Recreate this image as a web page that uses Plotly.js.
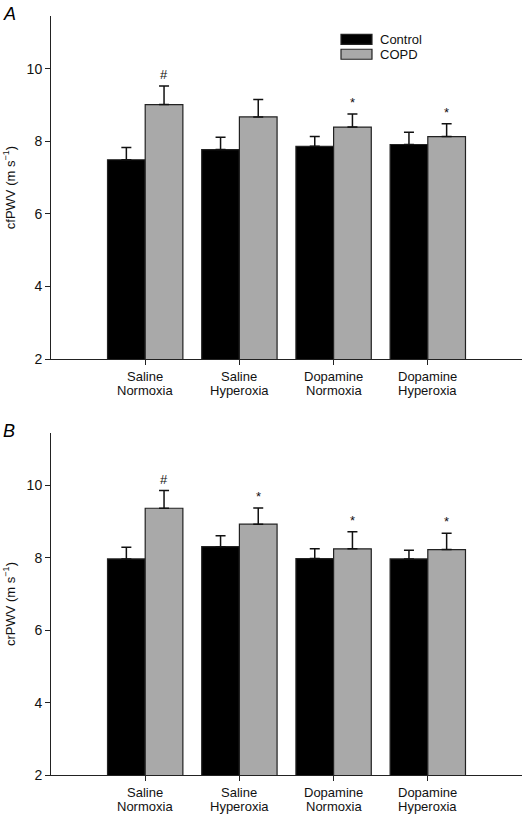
<!DOCTYPE html>
<html>
<head>
<meta charset="utf-8">
<script src="https://cdn.plot.ly/plotly-3.0.1.min.js"></script>
<style>html,body{margin:0;padding:0;background:#fff;}#chart{width:528px;height:814px;}</style>
</head>
<body>
<div id="chart"></div>
<script>
// ---- data ----
var categories = ["Saline<br>Normoxia", "Saline<br>Hyperoxia", "Dopamine<br>Normoxia", "Dopamine<br>Hyperoxia"];
var seriesNames = ["Control", "COPD"];

var cfControl = [7.49, 7.77, 7.86, 7.91];
var cfControlErr = [0.34, 0.34, 0.27, 0.34];
var cfCOPD = [9.01, 8.67, 8.39, 8.13];
var cfCOPDErr = [0.51, 0.48, 0.36, 0.35];
var cfSig = ["#", "", "*", "*"];

var crControl = [7.97, 8.31, 7.98, 7.97];
var crControlErr = [0.32, 0.30, 0.27, 0.24];
var crCOPD = [9.37, 8.93, 8.25, 8.23];
var crCOPDErr = [0.49, 0.45, 0.47, 0.45];
var crSig = ["#", "*", "*", "*"];

var yTicks = [2, 4, 6, 8, 10];
var panelLabels = ["A", "B"];
var yTitles = ["cfPWV (m s<sup>−1</sup>)", "crPWV (m s<sup>−1</sup>)"];

// ---- build ----
var idx = categories.map(function(_, i){ return i; });
var colors = ["#000000", "#a9a9a9"];
var font = "Liberation Sans, Arial, sans-serif";

function barTrace(vals, errs, s, xa, ya) {
  return {
    type: "bar", x: idx, y: vals, name: seriesNames[s], showlegend: false,
    xaxis: xa, yaxis: ya, base: 0,
    marker: {color: colors[s], line: {color: "#222", width: 1.2}},
    error_y: {type: "data", array: errs, arrayminus: errs.map(function(){return 0;}), symmetric: false,
              color: "#111", thickness: 1.5, width: 5}
  };
}

var data = [
  barTrace(cfControl, cfControlErr, 0, "x", "y"),
  barTrace(cfCOPD, cfCOPDErr, 1, "x", "y"),
  barTrace(crControl, crControlErr, 0, "x2", "y2"),
  barTrace(crCOPD, crCOPDErr, 1, "x2", "y2")
];

var annotations = [];
function addSig(sig, vals, errs, xr, yr) {
  sig.forEach(function(t, i){
    if (!t) return;
    annotations.push({xref: xr, yref: yr, x: i + 0.2, y: vals[i] + errs[i], text: t,
      showarrow: false, yanchor: "bottom", yshift: 2, font: {family: font, size: 13, color: "#111"}});
  });
}
addSig(cfSig, cfCOPD, cfCOPDErr, "x", "y");
addSig(crSig, crCOPD, crCOPDErr, "x2", "y2");

// category labels (two tight lines under each axis)
var domainsBottom = [0.548, 0];
["x", "x2"].forEach(function(xr, p){
  categories.forEach(function(c, i){
    c.split("<br>").forEach(function(line, k){
      annotations.push({xref: xr, yref: "paper", x: i, y: domainsBottom[p], yanchor: "middle",
        yshift: -(17.0 + 14.6 * k), text: line, showarrow: false, borderpad: 0,
        font: {family: font, size: 13, color: "#111"}});
    });
  });
});

// panel labels
annotations.push({xref: "paper", yref: "paper", x: -0.106, y: 1.019, xanchor: "left", yanchor: "top",
  text: "<i>" + panelLabels[0] + "</i>", showarrow: false, font: {family: font, size: 18, color: "#000"}});
annotations.push({xref: "paper", yref: "paper", x: -0.106, y: 0.469, xanchor: "left", yanchor: "top",
  text: "<i>" + panelLabels[1] + "</i>", showarrow: false, font: {family: font, size: 18, color: "#000"}});

// legend (manual)
var shapes = [];
var legY = [[0.9627, 0.9759], [0.9430, 0.9562]];
seriesNames.forEach(function(n, s){
  shapes.push({type: "rect", xref: "paper", yref: "paper", x0: 0.6157, x1: 0.6815,
    y0: legY[s][0], y1: legY[s][1], fillcolor: colors[s], line: {color: "#222", width: 1.2}});
  annotations.push({xref: "paper", yref: "paper", x: 0.694, y: (legY[s][0] + legY[s][1]) / 2,
    xanchor: "left", yanchor: "middle", text: n, showarrow: false,
    font: {family: font, size: 13, color: "#111"}});
});

function xAxis(anchor) {
  return {anchor: anchor, range: [-1, 4], tickmode: "array", tickvals: idx, ticktext: categories,
    showticklabels: false,
    ticks: "outside", ticklen: 5, tickwidth: 1, tickcolor: "#222", showline: true, linecolor: "#222", linewidth: 1,
    showgrid: false, zeroline: false, tickfont: {family: font, size: 13, color: "#111"}, fixedrange: true};
}
function yAxis(anchor, dom, t) {
  return {anchor: anchor, domain: dom, range: [2, 11.45], tickmode: "array", tickvals: yTicks,
    ticks: "outside", ticklen: 5, tickwidth: 1, tickcolor: "#222", showline: true, linecolor: "#222", linewidth: 1,
    showgrid: false, zeroline: false, tickfont: {family: font, size: 14, color: "#111"},
    title: {text: t, font: {family: font, size: 13, color: "#111"}, standoff: 8}};
}

var layout = {
  width: 528, height: 814,
  margin: {l: 51, r: 6, t: 16, b: 39},
  paper_bgcolor: "#fff", plot_bgcolor: "#fff",
  barmode: "group", bargap: 0.2, bargroupgap: 0,
  xaxis: xAxis("y"),
  yaxis: yAxis("x", [0.548, 1], yTitles[0]),
  xaxis2: xAxis("y2"),
  yaxis2: yAxis("x2", [0, 0.4506], yTitles[1]),
  annotations: annotations, shapes: shapes, showlegend: false
};

Plotly.newPlot("chart", data, layout, {staticPlot: true, displayModeBar: false});
</script>
</body>
</html>
